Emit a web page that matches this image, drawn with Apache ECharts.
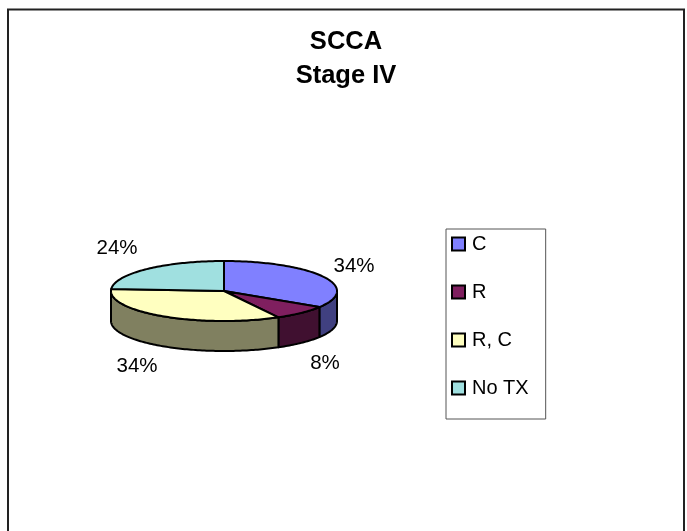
<!DOCTYPE html>
<html>
<head>
<meta charset="utf-8">
<style>
  html, body { margin: 0; padding: 0; background: #fff; }
  #chart { width: 687px; height: 531px; }
</style>
<script src="https://cdn.jsdelivr.net/npm/echarts@6/dist/echarts.min.js"></script>
</head>
<body>
<div id="chart"></div>
<script>
const categories = ["C", "R", "R, C", "No TX"];
const percents = [34, 8, 34, 24];
const topColors = ["#8080ff", "#7f1f5f", "#ffffc0", "#a0e0e0"];
const sideColors = ["#404080", "#401030", "#808060", "#507070"];

// tilted pie geometry, echarts has no 3d pie without the gl extension
const pie = { cx: 224, cy: 291, rx: 113, ry: 30, depth: 30 };
const labelAnchors = [[354, 266], [325, 363], [137, 366], [117, 248]];
const total = percents.reduce((sum, value) => sum + value, 0);

function ellipsePoint(angle, drop) {
  return [pie.cx + pie.rx * Math.sin(angle), pie.cy - pie.ry * Math.cos(angle) + drop];
}

function arcPoints(from, to, drop) {
  const steps = Math.max(2, Math.ceil(Math.abs(to - from) / 0.02));
  const points = [];
  for (let i = 0; i <= steps; i++) {
    points.push(ellipsePoint(from + ((to - from) * i) / steps, drop));
  }
  return points;
}

function renderSlice(params, api) {
  const index = params.seriesIndex;
  const before = percents.slice(0, index).reduce((sum, value) => sum + value, 0);
  const start = (before / total) * 2 * Math.PI;
  const end = start + (api.value(0) / total) * 2 * Math.PI;
  const children = [];
  const edge = { stroke: "#000", lineWidth: 2, lineJoin: "round" };

  // only the front half of the rim is visible
  const rimStart = Math.max(start, Math.PI / 2);
  const rimEnd = Math.min(end, (3 * Math.PI) / 2);
  if (rimEnd > rimStart) {
    children.push({
      type: "polygon",
      shape: { points: arcPoints(rimStart, rimEnd, 0).concat(arcPoints(rimEnd, rimStart, pie.depth)) },
      style: { fill: sideColors[index], ...edge },
    });
  }
  children.push({
    type: "polygon",
    shape: { points: [[pie.cx, pie.cy]].concat(arcPoints(start, end, 0)) },
    style: { fill: topColors[index], ...edge },
  });
  children.push({
    type: "text",
    style: {
      x: labelAnchors[index][0],
      y: labelAnchors[index][1],
      text: api.value(0) + "%",
      fill: "#000",
      font: '20.5px "Liberation Sans", Arial, sans-serif',
      align: "center",
      verticalAlign: "middle",
    },
  });
  return { type: "group", children };
}

const chart = echarts.init(document.getElementById("chart"), null, { renderer: "canvas" });

chart.setOption({
  animation: false,
  backgroundColor: "#fff",
  title: {
    text: "SCCA\nStage IV",
    left: 341,
    top: 20,
    textAlign: "center",
    textStyle: {
      color: "#000",
      fontFamily: '"Liberation Sans", Arial, sans-serif',
      fontSize: 25.5,
      fontWeight: "bold",
      lineHeight: 34,
    },
  },
  legend: {
    orient: "vertical",
    left: 446,
    top: 229,
    data: categories,
    icon: "rect",
    itemWidth: 13,
    itemHeight: 13,
    itemGap: 28,
    padding: [5, 17, 21, 5],
    borderColor: "#555",
    borderWidth: 1,
    textStyle: {
      color: "#000",
      fontFamily: '"Liberation Sans", Arial, sans-serif',
      fontSize: 20,
      padding: [0, 0, 0, 2],
    },
  },
  graphic: [
    {
      type: "polyline",
      shape: { points: [[8, 531], [8, 9.5], [684, 9.5], [684, 531]] },
      style: { fill: null, stroke: "#222", lineWidth: 2 },
    },
  ],
  series: categories.map((name, i) => ({
    name,
    type: "custom",
    coordinateSystem: "none",
    renderItem: renderSlice,
    data: [percents[i]],
    itemStyle: { color: topColors[i], borderColor: "#000", borderWidth: 2 },
    silent: true,
  })),
});
</script>
</body>
</html>
